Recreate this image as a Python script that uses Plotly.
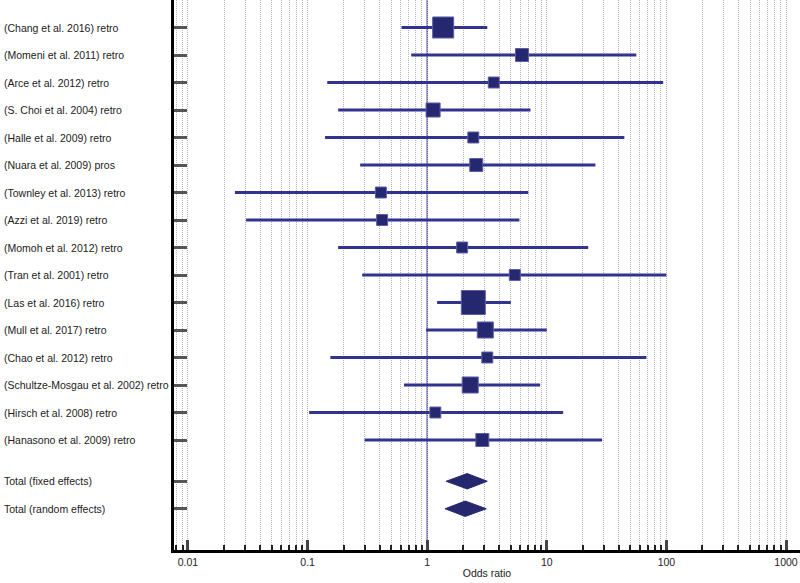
import plotly.graph_objects as go
import numpy as np

studies = [
    "(Chang et al. 2016) retro",
    "(Momeni et al. 2011) retro",
    "(Arce et al. 2012) retro",
    "(S. Choi et al. 2004) retro",
    "(Halle et al. 2009) retro",
    "(Nuara et al. 2009) pros",
    "(Townley et al. 2013) retro",
    "(Azzi et al. 2019) retro",
    "(Momoh et al. 2012) retro",
    "(Tran et al. 2001) retro",
    "(Las et al. 2016) retro",
    "(Mull et al. 2017) retro",
    "(Chao et al. 2012) retro",
    "(Schultze-Mosgau et al. 2002) retro",
    "(Hirsch et al. 2008) retro",
    "(Hanasono et al. 2009) retro",
]
odds_ratio = [1.36, 6.2, 3.6, 1.12, 2.43, 2.57, 0.41, 0.42, 1.96, 5.4, 2.43, 3.06, 3.18, 2.29, 1.17, 2.89]
ci_lower = [0.61, 0.735, 0.146, 0.18, 0.14, 0.275, 0.0247, 0.0306, 0.18, 0.286, 1.21, 0.98, 0.155, 0.64, 0.103, 0.30]
ci_upper = [3.18, 56, 94, 7.3, 44.5, 25.5, 7.0, 5.9, 22.2, 100, 5.0, 10.0, 68, 8.8, 13.7, 29]
weights = [18.4, 7.0, 5.0, 8.2, 5.0, 7.0, 5.0, 5.0, 5.0, 5.0, 24.0, 10.7, 5.0, 10.7, 5.0, 7.0]

totals = ["Total (fixed effects)", "Total (random effects)"]
total_or = [2.16, 2.08]
total_lower = [1.44, 1.41]
total_upper = [3.18, 3.12]

tick_vals = [0.01, 0.1, 1, 10, 100, 1000]
tick_text = ["0.01", "0.1", "1", "10", "100", "1000"]

study_rows = list(range(len(studies)))
total_rows = [len(studies) + 0.5, len(studies) + 1.5]

NAVY = "#26286f"
LINE = "#30338f"
GRID = "#b4b4b4"
FONT = "Liberation Sans, Arial, Helvetica, sans-serif"

fig = go.Figure()

# CI lines
xs, ys = [], []
for lo, hi, r in zip(ci_lower, ci_upper, study_rows):
    xs += [lo, hi, None]
    ys += [r, r, None]
fig.add_trace(go.Scatter(x=xs, y=ys, mode="lines", line=dict(color=LINE, width=3),
                         hoverinfo="skip", showlegend=False))

# squares
sizes = [4.9 * np.sqrt(w) for w in weights]
fig.add_trace(go.Scatter(x=odds_ratio, y=study_rows, mode="markers",
                         marker=dict(symbol="square", size=sizes, color=NAVY, opacity=1,
                                     line=dict(color="#5b5da8", width=1)),
                         showlegend=False, text=studies))

# diamonds
h = 0.28
for est, lo, hi, r in zip(total_or, total_lower, total_upper, total_rows):
    fig.add_trace(go.Scatter(x=[lo, est, hi, est, lo], y=[r, r - h, r, r + h, r],
                             mode="lines", fill="toself", fillcolor=NAVY,
                             line=dict(color=NAVY, width=1), showlegend=False))

# reference line at OR = 1
fig.add_shape(type="line", x0=1, x1=1, xref="x", y0=0, y1=1, yref="paper",
              line=dict(color="#5f61b3", width=1.5), layer="below")

# left labels
for lab, r in zip(studies + totals, study_rows + total_rows):
    fig.add_annotation(text=lab, x=-0.2748, xref="paper", y=r, yref="y",
                       xanchor="left", yanchor="middle", showarrow=False,
                       font=dict(family=FONT, size=10.5, color="#222"))

fig.update_layout(
    width=800, height=583,
    margin=dict(l=174, r=0, t=0, b=33, autoexpand=False),
    plot_bgcolor="white", paper_bgcolor="white",
    font=dict(family=FONT, size=10.5, color="#222"),
    xaxis=dict(
        type="log", range=[-2.117, 3.117],
        tickvals=tick_vals, ticktext=tick_text,
        ticks="inside", ticklen=10, tickwidth=3, tickcolor="#444",
        showline=True, linecolor="black", linewidth=3,
        showgrid=True, gridcolor=GRID, griddash="1px,1px", gridwidth=1,
        zeroline=False, automargin=False,
        minor=dict(dtick="D1", ticks="inside", ticklen=5, tickwidth=1.5, tickcolor="#222",
                   showgrid=True, gridcolor=GRID, griddash="1px,1px", gridwidth=1),
        title=dict(text="Odds ratio", standoff=4, font=dict(family=FONT, size=10.5, color="#222")),
        tickfont=dict(family=FONT, size=10.5, color="#222"),
    ),
    yaxis=dict(
        range=[19, -1], tickvals=study_rows + total_rows, ticktext=[""] * 18,
        ticks="inside", ticklen=13, tickwidth=3, tickcolor="#555",
        showline=True, linecolor="black", linewidth=3,
        showgrid=False, zeroline=False, automargin=False,
    ),
)

fig.write_html("out.html", config={"displayModeBar": False},
               post_script="document.body.style.margin='0';document.body.style.overflow='hidden';")
